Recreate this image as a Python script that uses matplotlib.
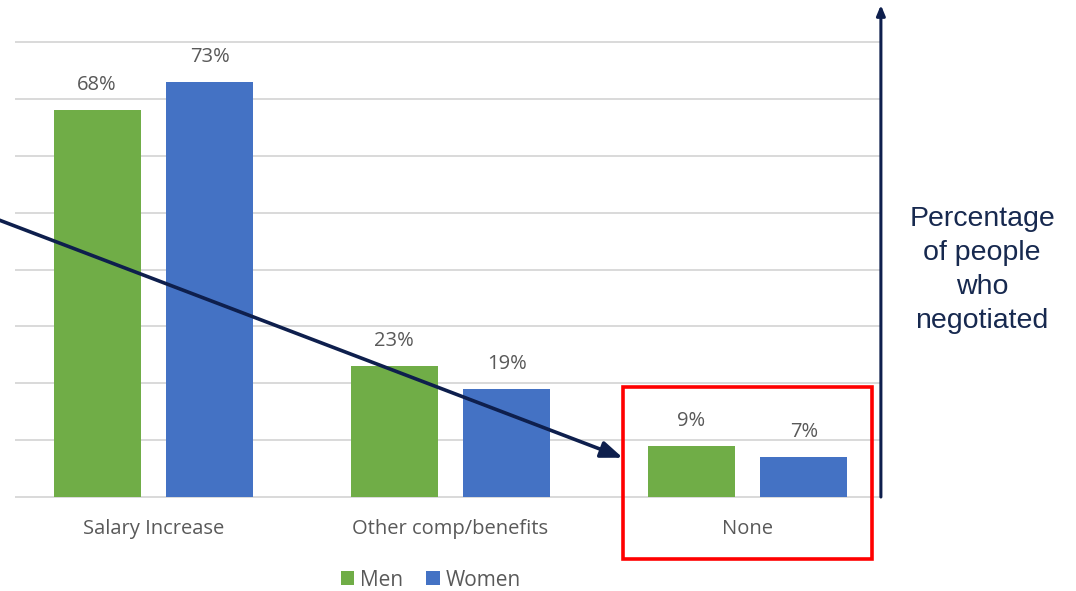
import numpy as np
import matplotlib.pyplot as plt
from matplotlib.patches import Rectangle

categories = ["Salary Increase", "Other comp/benefits", "None"]
men = [68, 23, 9]
women = [73, 19, 7]
series_names = ["Men", "Women"]

green = "#70ad47"
blue = "#4472c4"
navy = "#0e1f4d"
gray_text = "#595959"

fig = plt.figure(figsize=(10.76, 5.91), dpi=100)
ax = fig.add_axes([16/1076, 94/591, 864/1076, 455/591])

x = np.arange(len(categories))
w = 0.293
off = 0.19
b1 = ax.bar(x - off, men, w, color=green, label=series_names[0], zorder=2)
b2 = ax.bar(x + off, women, w, color=blue, label=series_names[1], zorder=2)

for bars, vals in [(b1, men), (b2, women)]:
    for r, v in zip(bars, vals):
        ax.text(r.get_x() + r.get_width() / 2, v + 3.5, f"{v}%",
                ha="center", va="baseline", fontsize=14.5, color=gray_text,
                family="Open Sans")

ax.set_xlim(-0.463, 2.446)
ax.set_ylim(0, 80)
ax.set_yticks(np.arange(0, 81, 10))
ax.yaxis.grid(True, color="#d9d9d9", linewidth=1.4, zorder=0)
for gl in ax.get_ygridlines():
    gl.set_clip_on(False)
ax.tick_params(axis="y", left=False, labelleft=False)
ax.tick_params(axis="x", bottom=False, pad=12.5)
ax.set_xticks(x)
ax.set_xticklabels(categories, fontsize=14.5, color=gray_text, family="Open Sans")
for s in ax.spines.values():
    s.set_visible(False)

# highlight box around "None"
ax.add_patch(Rectangle((2 - 0.42, -10.9), 0.84, 30.2, fill=False,
                       edgecolor="#ff0000", linewidth=2.6, clip_on=False, zorder=5))

# diagonal arrow pointing at the box
ax.annotate("", xy=(2 - 0.42, 6.9), xytext=(-0.52, 48.7),
            arrowprops=dict(arrowstyle="-|>,head_length=1.3,head_width=0.5",
                            color=navy, lw=2.6, shrinkA=0, shrinkB=0),
            annotation_clip=False, zorder=6)

# vertical axis arrow on the right
ax.annotate("", xy=(2.449, 86.5), xytext=(2.449, 0),
            arrowprops=dict(arrowstyle="-|>,head_length=0.6,head_width=0.25",
                            color=navy, lw=2.2, shrinkA=0, shrinkB=0),
            annotation_clip=False, zorder=6)

fig.text(982/1076, 1 - 270/591, "Percentage\nof people\nwho\nnegotiated",
         ha="center", va="center", fontsize=20.5, color="#17294f",
         family="Liberation Sans", linespacing=1.4)

ax.legend(loc="center", bbox_to_anchor=(431/1076, 1 - 580/591),
          bbox_transform=fig.transFigure, ncol=2, frameon=False,
          handlelength=0.65, handleheight=0.65, handletextpad=0.3,
          columnspacing=1.1, prop={"family": "Open Sans", "size": 15},
          labelcolor=gray_text)

fig.savefig("out.png", dpi=100)
